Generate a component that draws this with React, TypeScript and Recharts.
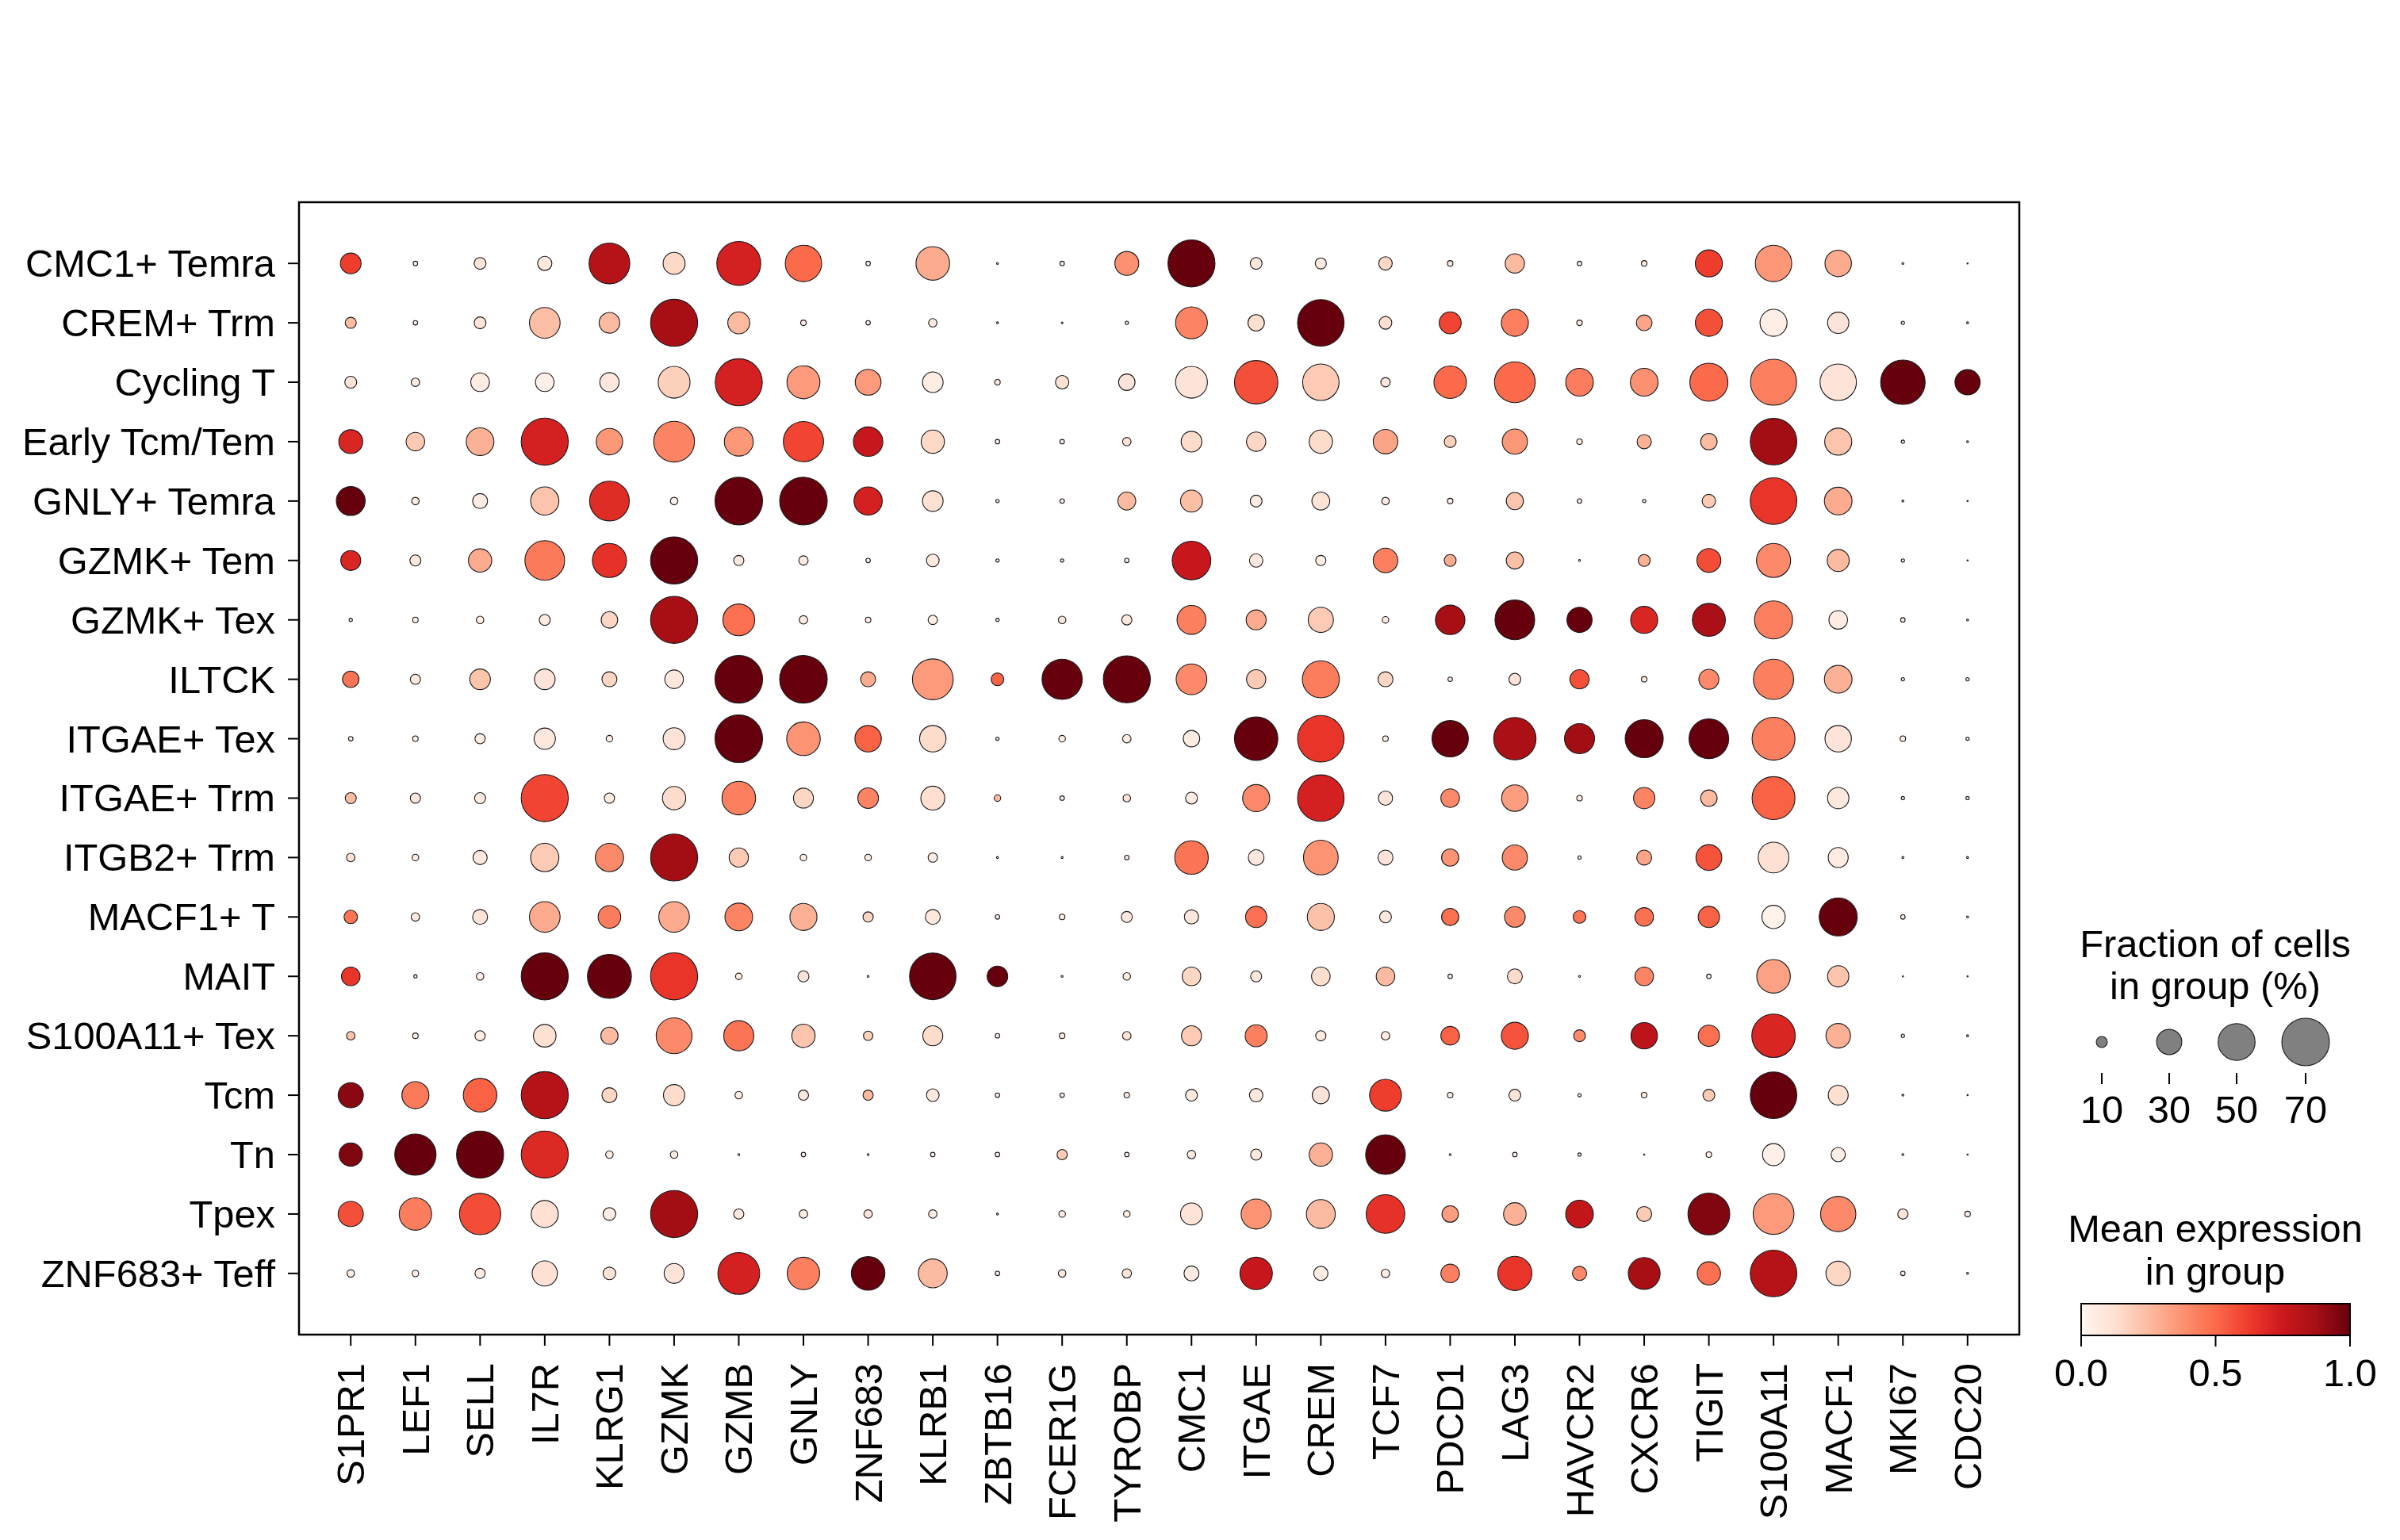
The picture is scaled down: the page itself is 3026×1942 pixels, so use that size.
import React from 'react';
import { ScatterChart, Scatter, XAxis, YAxis, ReferenceArea } from 'recharts';

const genes = ['S1PR1','LEF1','SELL','IL7R','KLRG1','GZMK','GZMB','GNLY','ZNF683','KLRB1','ZBTB16','FCER1G','TYROBP','CMC1','ITGAE','CREM','TCF7','PDCD1','LAG3','HAVCR2','CXCR6','TIGIT','S100A11','MACF1','MKI67','CDC20'];

const groups = ['CMC1+ Temra','CREM+ Trm','Cycling T','Early Tcm/Tem','GNLY+ Temra','GZMK+ Tem','GZMK+ Tex','ILTCK','ITGAE+ Tex','ITGAE+ Trm','ITGB2+ Trm','MACF1+ T','MAIT','S100A11+ Tex','Tcm','Tn','Tpex','ZNF683+ Teff'];

// fraction of cells in group (%), one row per group, one value per gene
const fractionPct: number[][] = [
  [23,3,11,14,57,25,63,49,3,44,1,3,28,69,11,10,13,4,21,3,4,33,49,32,1,0.5],
  [10,3,11,39,23,69,25,4,3,7,1,0.8,2,41,17,68,12,25,33,4,16,33,33,24,2,1],
  [11,7,20,20,21,41,69,43,31,23,4,13,17,41,62,49,8,42,57,34,34,52,67,49,64,30],
  [28,20,34,69,32,57,36,56,37,27,3,3,7,23,21,27,29,11,30,4,14,17,68,33,2,1],
  [36,6,15,35,55,6,70,70,35,23,2,3,19,25,11,19,6,4,18,3,2,13,68,34,1,0.5],
  [22,10,27,55,45,69,9,8,3,12,2,2,3,53,13,9,29,11,18,1,11,28,45,25,2,0.5],
  [2,4,6,10,17,69,41,7,4,8,2,6,9,36,22,30,5,37,55,30,33,43,52,20,3,1],
  [17,9,23,23,15,20,70,70,15,57,12,56,69,39,21,50,15,3,11,21,4,22,56,34,2,2],
  [3,4,9,24,5,25,70,44,32,32,2,5,7,17,62,68,4,49,60,38,52,55,61,32,4,2],
  [10,9,10,69,9,27,44,22,23,28,5,3,6,11,33,68,14,20,32,4,24,17,61,24,2,2],
  [7,5,14,35,35,69,21,5,5,8,1,1,3,44,16,46,15,18,30,2,15,31,39,22,1,1],
  [13,7,15,39,26,39,34,33,9,15,3,4,10,14,24,33,11,18,23,12,20,24,27,52,3,1],
  [20,2,6,69,63,69,5,10,1,68,23,1,6,20,10,20,20,3,15,1,20,3,44,24,0.5,0.5],
  [7,4,9,26,18,48,38,27,8,22,3,4,7,22,25,9,7,20,33,11,32,24,62,29,2,1],
  [30,33,44,69,15,24,6,9,9,12,3,3,4,11,13,18,41,4,11,2,4,11,68,22,1,0.5],
  [27,58,69,69,6,6,1,3,1,3,3,9,3,7,10,27,55,1,3,2,0.5,4,25,14,1,0.5],
  [30,42,58,33,12,69,9,7,7,7,1,5,5,25,38,36,53,17,26,34,15,59,57,47,9,4],
  [6,5,9,30,12,22,59,42,44,36,3,6,8,15,42,14,7,20,45,14,41,27,68,29,3,1],
];

// mean expression in group (0..1)
const meanExpr: number[][] = [
  [0.62,0.05,0.1,0.07,0.82,0.15,0.72,0.5,0.05,0.3,0.05,0.05,0.38,1.0,0.08,0.06,0.15,0.1,0.25,0.05,0.08,0.62,0.36,0.3,0.05,0.05],
  [0.25,0.05,0.1,0.24,0.25,0.87,0.25,0.05,0.05,0.07,0.05,0.05,0.05,0.42,0.13,1.0,0.13,0.6,0.43,0.08,0.32,0.57,0.04,0.1,0.05,0.05],
  [0.1,0.06,0.05,0.03,0.08,0.18,0.72,0.35,0.35,0.05,0.08,0.12,0.1,0.1,0.57,0.2,0.08,0.5,0.5,0.44,0.38,0.5,0.43,0.1,1.0,1.0],
  [0.7,0.2,0.28,0.72,0.36,0.42,0.36,0.6,0.77,0.15,0.05,0.05,0.1,0.14,0.16,0.14,0.32,0.18,0.36,0.05,0.28,0.25,0.88,0.22,0.05,0.05],
  [1.0,0.05,0.06,0.22,0.68,0.02,1.0,1.0,0.72,0.12,0.05,0.05,0.25,0.24,0.05,0.11,0.05,0.05,0.22,0.05,0.05,0.2,0.65,0.3,0.05,0.05],
  [0.7,0.08,0.3,0.45,0.66,1.0,0.08,0.06,0.05,0.07,0.05,0.05,0.05,0.76,0.08,0.04,0.43,0.3,0.24,0.05,0.28,0.58,0.4,0.25,0.05,0.05],
  [0.05,0.05,0.05,0.06,0.16,0.87,0.48,0.06,0.05,0.05,0.05,0.08,0.07,0.43,0.3,0.2,0.05,0.87,1.0,1.0,0.7,0.86,0.43,0.05,0.05,0.05],
  [0.47,0.07,0.22,0.1,0.16,0.08,1.0,1.0,0.3,0.35,0.52,1.0,1.0,0.4,0.2,0.44,0.16,0.05,0.1,0.57,0.05,0.4,0.43,0.28,0.05,0.05],
  [0.05,0.05,0.05,0.08,0.05,0.1,1.0,0.37,0.52,0.14,0.05,0.05,0.05,0.05,1.0,0.65,0.05,1.0,0.86,0.88,1.0,1.0,0.43,0.1,0.05,0.05],
  [0.25,0.08,0.06,0.6,0.05,0.14,0.43,0.16,0.42,0.13,0.25,0.05,0.1,0.06,0.4,0.72,0.1,0.4,0.34,0.05,0.42,0.25,0.52,0.08,0.05,0.05],
  [0.12,0.05,0.08,0.2,0.4,0.88,0.2,0.05,0.08,0.05,0.05,0.05,0.05,0.47,0.08,0.37,0.1,0.37,0.4,0.05,0.32,0.56,0.12,0.06,0.05,0.05],
  [0.47,0.07,0.1,0.3,0.44,0.3,0.42,0.28,0.16,0.08,0.05,0.05,0.08,0.08,0.48,0.23,0.08,0.48,0.4,0.47,0.48,0.52,0.02,1.0,0.05,0.05],
  [0.65,0.05,0.05,1.0,1.0,0.65,0.05,0.1,0.05,1.0,1.0,0.05,0.05,0.16,0.08,0.13,0.25,0.05,0.14,0.05,0.42,0.05,0.33,0.22,0.05,0.05],
  [0.22,0.05,0.05,0.12,0.25,0.4,0.47,0.22,0.18,0.14,0.05,0.05,0.1,0.2,0.43,0.06,0.05,0.52,0.56,0.4,0.8,0.48,0.7,0.28,0.05,0.05],
  [0.93,0.45,0.52,0.82,0.16,0.14,0.05,0.08,0.25,0.08,0.05,0.05,0.05,0.07,0.08,0.1,0.62,0.05,0.1,0.05,0.05,0.2,1.0,0.13,0.05,0.05],
  [0.95,1.0,1.0,0.69,0.05,0.05,0.05,0.05,0.05,0.05,0.05,0.2,0.05,0.06,0.07,0.28,1.0,0.05,0.05,0.05,0.05,0.05,0.03,0.04,0.05,0.05],
  [0.57,0.44,0.58,0.12,0.05,0.88,0.07,0.05,0.1,0.05,0.05,0.05,0.05,0.1,0.37,0.25,0.66,0.34,0.28,0.78,0.2,0.95,0.35,0.4,0.1,0.05],
  [0.05,0.05,0.05,0.12,0.1,0.1,0.72,0.43,1.0,0.25,0.05,0.08,0.1,0.06,0.76,0.05,0.05,0.43,0.65,0.4,0.87,0.48,0.82,0.16,0.05,0.05],
];

const sizeLegendTicks = [10, 30, 50, 70];
const colorLegendTicks = [0, 0.5, 1];

const REDS = ['#fff5f0','#fee0d2','#fcbba1','#fc9272','#fb6a4a','#ef3b2c','#cb181d','#a50f15','#67000d'];
const FONT = '"Liberation Sans", Arial, Helvetica, sans-serif';
const FS = 48.8;

function hexToRgb(h: string) {
  return [parseInt(h.slice(1, 3), 16), parseInt(h.slice(3, 5), 16), parseInt(h.slice(5, 7), 16)];
}
function reds(v: number) {
  const t = Math.max(0, Math.min(1, v)) * (REDS.length - 1);
  const i = Math.min(REDS.length - 2, Math.floor(t));
  const f = t - i;
  const a = hexToRgb(REDS[i]);
  const b = hexToRgb(REDS[i + 1]);
  const c = a.map((x, k) => Math.round(x + (b[k] - x) * f));
  return `rgb(${c[0]},${c[1]},${c[2]})`;
}
function radius(frac: number) {
  return 30 * Math.pow(frac / 70, 0.75);
}

const points = groups.flatMap((g, gi) =>
  genes.map((gene, xi) => ({ x: xi, y: gi, frac: fractionPct[gi][xi], expr: meanExpr[gi][xi], gene, group: g }))
);

const Dot = (props: any) => {
  const { cx, cy, payload } = props;
  if (cx == null || cy == null) return null;
  return (
    <circle cx={cx} cy={cy} r={radius(payload.frac)} fill={reds(payload.expr)} stroke="#1a1a1a" strokeWidth={1.1} />
  );
};

const XTick = (props: any) => {
  const { x, y, payload } = props;
  return (
    <text
      x={0}
      y={0}
      transform={`translate(${x},${y}) rotate(-90)`}
      textAnchor="end"
      dominantBaseline="central"
      fontSize={FS}
      fontFamily={FONT}
      fill="#000"
    >
      {genes[payload.value]}
    </text>
  );
};

const YTick = (props: any) => {
  const { x, y, payload } = props;
  return (
    <text x={x} y={y} textAnchor="end" dominantBaseline="central" fontSize={FS} fontFamily={FONT} fill="#000">
      {groups[payload.value]}
    </text>
  );
};

const Legends = () => {
  const cbX = 2624;
  const cbW = 339;
  const cbY = 1644;
  const cbH = 40;
  const sizeXs = [2650, 2735, 2820, 2907];
  return (
    <svg width={3026} height={1942} style={{ position: 'absolute', left: 0, top: 0, pointerEvents: 'none' }}>
      <defs>
        <linearGradient id="redsGrad" x1="0" x2="1" y1="0" y2="0">
          {REDS.map((c, i) => (
            <stop key={i} offset={i / (REDS.length - 1)} stopColor={c} />
          ))}
        </linearGradient>
      </defs>
      <g fontFamily={FONT} fontSize={FS} fill="#000" textAnchor="middle">
        <text x={2793} y={1207}>Fraction of cells</text>
        <text x={2793} y={1260}>in group (%)</text>
        {sizeLegendTicks.map((v, i) => (
          <g key={v}>
            <circle cx={sizeXs[i]} cy={1314} r={radius(v)} fill="#808080" stroke="#1a1a1a" strokeWidth={1.1} />
            <line x1={sizeXs[i]} x2={sizeXs[i]} y1={1353} y2={1367} stroke="#000" strokeWidth={2} />
            <text x={sizeXs[i]} y={1416}>{v}</text>
          </g>
        ))}
        <text x={2793} y={1566}>Mean expression</text>
        <text x={2793} y={1620}>in group</text>
        <rect x={cbX} y={cbY} width={cbW} height={cbH} fill="url(#redsGrad)" stroke="#000" strokeWidth={2} />
        {colorLegendTicks.map((v) => (
          <g key={v}>
            <line x1={cbX + v * cbW} x2={cbX + v * cbW} y1={cbY + cbH} y2={cbY + cbH + 14} stroke="#000" strokeWidth={2} />
            <text x={cbX + v * cbW} y={1748}>{v.toFixed(1)}</text>
          </g>
        ))}
      </g>
    </svg>
  );
};

export default function App() {
  return (
    <div style={{ position: 'absolute', left: 0, top: 0, width: 3026, height: 1942, background: '#fff' }}>
      <ScatterChart width={3026} height={1942} margin={{ top: 255, right: 480, bottom: 0, left: 0 }}>
        <XAxis
          type="number"
          dataKey="x"
          domain={[-0.8, 25.8]}
          ticks={genes.map((_, i) => i)}
          interval={0}
          height={259}
          axisLine={false}
          tickLine={{ stroke: '#000', strokeWidth: 2 }}
          tickSize={14}
          tickMargin={22}
          tick={<XTick />}
          allowDataOverflow
        />
        <YAxis
          type="number"
          dataKey="y"
          domain={[-1.03, 18.03]}
          reversed
          ticks={groups.map((_, i) => i)}
          interval={0}
          width={377}
          axisLine={false}
          tickLine={{ stroke: '#000', strokeWidth: 2 }}
          tickSize={14}
          tickMargin={16}
          tick={<YTick />}
          allowDataOverflow
        />
        <ReferenceArea x1={-0.8} x2={25.8} y1={-1.03} y2={18.03} fill="none" stroke="#000" strokeWidth={2.5} ifOverflow="visible" />
        <Scatter data={points} shape={<Dot />} isAnimationActive={false} />
      </ScatterChart>
      <Legends />
    </div>
  );
}
